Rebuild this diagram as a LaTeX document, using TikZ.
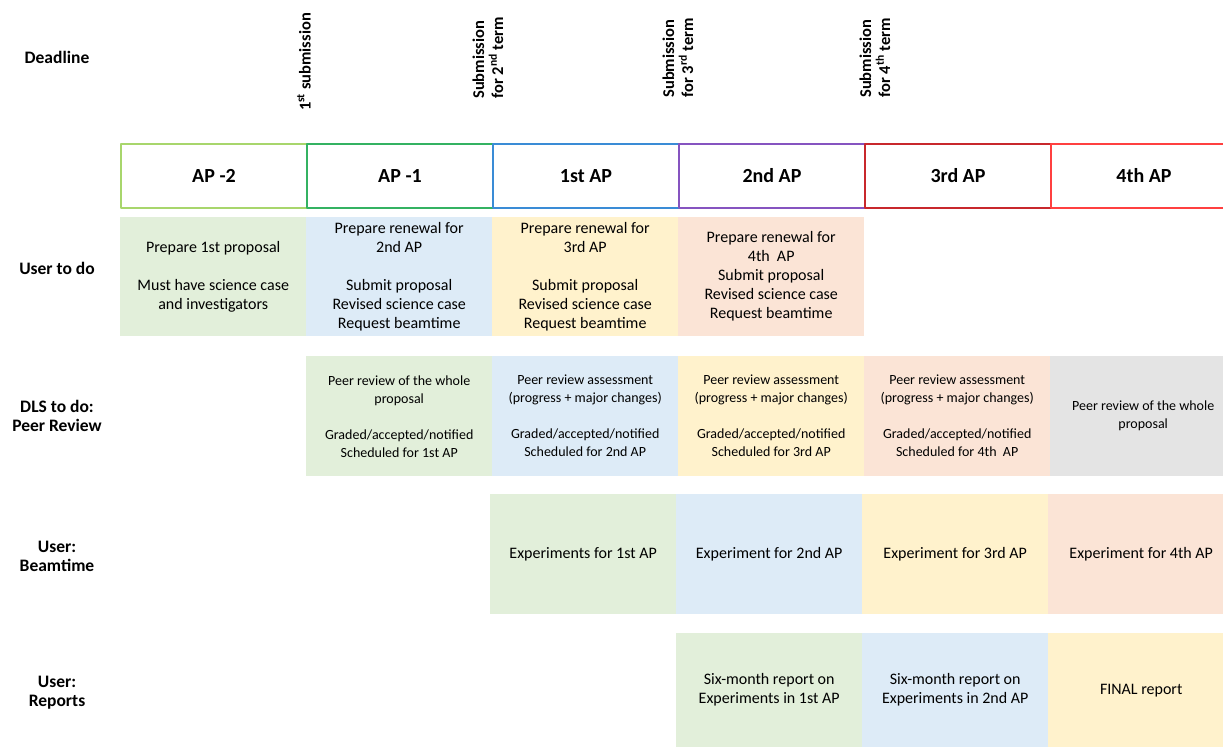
\documentclass[tikz,border=0pt]{standalone}
\usepackage{fontspec}
\setmainfont{Carlito}
\definecolor{bAmin2}{RGB}{168,214,108}
\definecolor{bAmin1}{RGB}{52,178,98}
\definecolor{bApA}{RGB}{58,140,214}
\definecolor{bApB}{RGB}{134,84,192}
\definecolor{bApC}{RGB}{200,40,44}
\definecolor{bApD}{RGB}{255,64,64}
\definecolor{fGreen}{RGB}{226,239,218}
\definecolor{fBlue}{RGB}{221,235,247}
\definecolor{fYellow}{RGB}{255,242,204}
\definecolor{fPeach}{RGB}{251,228,214}
\definecolor{fGray}{RGB}{228,228,228}
\begin{document}
\begin{tikzpicture}[x=1pt, y=-1pt, line join=round,
	hdr/.style={draw=#1, line width=2pt, minimum width=186pt, minimum height=64pt, anchor=north west, inner sep=0pt, font=\fontsize{20}{24}\selectfont\bfseries},
	cell/.style={fill=#1, minimum width=186pt, minimum height=120pt, anchor=north west, inner sep=0pt, align=center, font=\fontsize{16}{19}\selectfont},
	peer/.style={cell=#1, font=\fontsize{14}{18}\selectfont},
	rowlab/.style={align=center, font=\fontsize{17.5}{19}\selectfont\bfseries},
	dline/.style={rotate=90, align=left, inner sep=0pt, font=\fontsize{16.5}{19}\selectfont\bfseries}]
	\useasboundingbox (0,0) rectangle (1223,747);
	\def\ya{143} \def\yb{217} \def\yc{356} \def\yd{494} \def\ye{633} % row tops
	% row labels
	\node[rowlab] (lDead) at (57,57) {Deadline};
	\node[rowlab] (lUser) at (57,268) {User to do};
	\node[rowlab] (lPeer) at (57,416) {DLS to do:\\Peer Review};
	\node[rowlab] (lBeam) at (57,556) {User:\\Beamtime};
	\node[rowlab] (lRep) at (57,693) {User:\\Reports};
	% deadlines
	\node[dline] (dA) at (304,62) {1\textsuperscript{st} submission};
	\node[dline] (dB) at (488,58) {Submission\\for 2\textsuperscript{nd} term};
	\node[dline] (dC) at (678,58) {Submission\\for 3\textsuperscript{rd} term};
	\node[dline] (dD) at (875,58) {Submission\\for 4\textsuperscript{th} term};
	% access periods
	\foreach \i/\c/\t in {0/bAmin2/AP -2, 1/bAmin1/AP -1, 2/bApA/1st AP, 3/bApB/2nd AP, 4/bApC/3rd AP, 5/bApD/4th AP}
		\node[hdr=\c] (hd\i) at (120+186*\i,\ya) {\t};
	% user to do
	\node[cell=fGreen, minimum height=119pt] (u0) at (120,\yb) {Prepare 1st proposal\\[19pt]Must have science case\\and investigators};
	\node[cell=fBlue, minimum height=119pt] (u1) at (306,\yb) {Prepare renewal for\\2nd AP\\[19pt]Submit proposal\\Revised science case\\Request beamtime};
	\node[cell=fYellow, minimum height=119pt] (u2) at (492,\yb) {Prepare renewal for\\3rd AP\\[19pt]Submit proposal\\Revised science case\\Request beamtime};
	\node[cell=fPeach, minimum height=119pt] (u3) at (678,\yb) {Prepare renewal for\\4th~~AP\\Submit proposal\\Revised science case\\Request beamtime};
	% peer review
	\node[peer=fGreen] (p1) at (306,\yc) {Peer review of the whole\\proposal\\[18pt]Graded/accepted/notified\\Scheduled for 1st AP};
	\node[peer=fBlue] (p2) at (492,\yc) {Peer review assessment\\(progress + major changes)\\[18pt]Graded/accepted/notified\\Scheduled for 2nd AP};
	\node[peer=fYellow] (p3) at (678,\yc) {Peer review assessment\\(progress + major changes)\\[18pt]Graded/accepted/notified\\Scheduled for 3rd AP};
	\node[peer=fPeach] (p4) at (864,\yc) {Peer review assessment\\(progress + major changes)\\[18pt]Graded/accepted/notified\\Scheduled for 4th~~AP};
	\node[peer=fGray] (p5) at (1050,\yc) {Peer review of the whole\\proposal};
	% beamtime
	\node[cell=fGreen] (b2) at (490,\yd) {Experiments for 1st AP};
	\node[cell=fBlue] (b3) at (676,\yd) {Experiment for 2nd AP};
	\node[cell=fYellow] (b4) at (862,\yd) {Experiment for 3rd AP};
	\node[cell=fPeach] (b5) at (1048,\yd) {Experiment for 4th AP};
	% reports
	\node[cell=fGreen, minimum height=114pt] (r3) at (676,\ye) {Six-month report on\\Experiments in 1st AP};
	\node[cell=fBlue, minimum height=114pt] (r4) at (862,\ye) {Six-month report on\\Experiments in 2nd AP};
	\node[cell=fYellow, minimum height=114pt] (r5) at (1048,\ye) {FINAL report};
\end{tikzpicture}
\end{document}
